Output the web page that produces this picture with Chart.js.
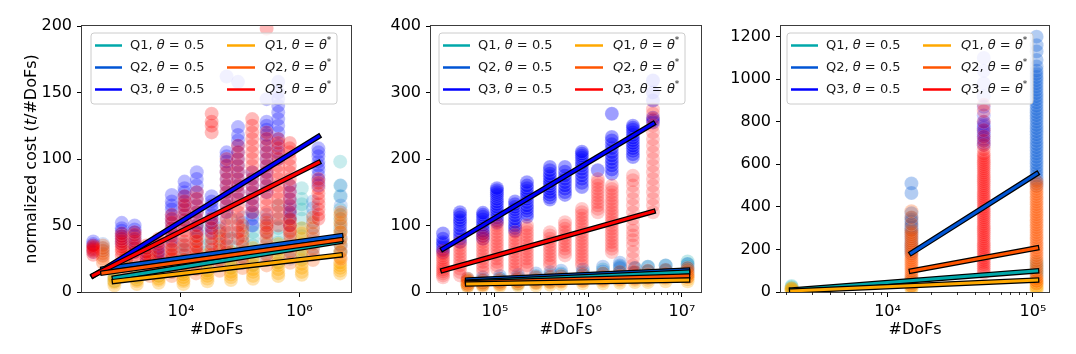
<!DOCTYPE html>
<html><head><meta charset="utf-8">
<script src="https://cdn.jsdelivr.net/npm/chart.js@4/dist/chart.umd.min.js"></script>
<style>
html,body{margin:0;padding:0;background:#fff;}
#wrap{position:relative;width:1076px;height:354px;overflow:hidden;}
.pane{position:absolute;top:0;height:354px;}
</style></head><body>
<div id="wrap">
<div class="pane" style="left:0;width:365px"><canvas id="c1" width="365" height="354"></canvas></div>
<div class="pane" style="left:365px;width:355px"><canvas id="c2" width="355" height="354"></canvas></div>
<div class="pane" style="left:720px;width:356px"><canvas id="c3" width="356" height="354"></canvas></div>
</div>
<script>
// ---------------- DATA ----------------
const seriesLabels = ['Q1', 'Q2', 'Q3'];
const thetaLabels = ['0.5', 'θ*'];
const xTitle = '#DoFs';
const yTitle = ['normalized cost (', 't', '/#DoFs)'];

// Panel 1
const p1_q1_x = [750, 1800, 4200, 11000, 28000, 70000, 165000, 440000, 1100000, 4900000];
const p1_q1_half = [[8,10,12,15],[10,12,14,16,18],[12,14,16,19,22,28],[14,17,20,24,28,32,36],[16,19,22,26,30,35,40,50],[18,22,26,30,34,40,45,55],[20,25,30,35,40,45,50,58],[22,27,32,37,42,48,55,65],[25,30,35,42,48,55,62,66,70,78],[30,36,42,48,55,62,72,80,98]];
const p1_q1_star = [[5,7,8,10,11],[6,8,9,11,13],[7,9,10,12,14,16,18],[6,8,9,11,13,15,18,21,24],[8,10,12,14,16,19,22,25,28],[9,11,13,15,18,21,24,27,30],[10,12,15,17,20,23,26,30,33],[12,14,17,20,22,25,28,32,36],[13,15,18,21,24,28,32,36,40,44,48],[14,16,18,20,22,26,30,38,45,52,58]];
const p1_q2_x = [480, 1200, 3000, 7000, 18000, 45000, 110000, 280000, 700000, 1700000, 5000000];
const p1_q2_half = [[28,31,33,36],[18,21,24,27,30,33,36],[15,18,20,24,28,31,34],[15,18,22,26,30,34,38],[18,22,25,28,32,36,40,44,48],[20,24,28,32,36,40,44,48,52],[22,26,30,34,38,43,48,52,56],[25,28,32,36,40,45,50,54,58],[25,30,35,40,45,50,55,58,62],[28,33,38,43,48,53,58,63,68],[30,35,40,46,52,58,65,72,80]];
const p1_q2_star = [[22,25,27,29,31,33,35],[14,17,20,22,25,27,30],[12,15,18,21,24,27,30],[12,15,18,21,25,28,32],[14,17,20,24,27,30,34,38,42],[16,20,24,28,31,34,38,42,46],[18,22,26,30,34,38,42,46,50],[20,24,28,32,36,40,44,48,52],[22,26,30,34,38,42,46,50,54],[24,28,32,36,40,44,48,52,56],[25,30,35,40,45,50,55,60]];
const p1_q3_x = [330, 1000, 1650, 2600, 4200, 7000, 11500, 18500, 33000, 59000, 92000, 160000, 280000, 440000, 690000, 2100000];
const p1_q3_half = [[30,32,33,35,36,38],[36,38,40,42,44,46,48,52],[30,33,36,39,42,45,47,50],[22,25,28,30,33],[25,28,30,33,35],[40,44,48,52,55,58,62,65,68,73],[50,54,58,62,65,68,72,75,78,83],[45,50,55,60,65,70,75,80,85,90],[45,48,52,55,58,62,65,68,72],[60,65,70,75,80,85,90,95,98,102,105,162],[70,75,80,85,90,95,100,105,110,114,118,124,158],[50,55,60,65,70,75,80,85,90],[75,80,85,90,95,100,105,110,115,118,122,125,128,145],[100,105,110,115,120,125,130,135,140,145,150,158],[50,55,60,65,70,75,80],[80,84,88,92,95,98,102,105,108]];
const p1_q3_star = [[28,30,31,32,33,34,35],[27,30,32,34,36,38,40,42,44],[25,28,30,33,35,38,40,43,45],[20,23,25,28,30,33,35],[18,21,24,27,30,33,36,38,40],[25,28,32,35,38,42,45,48,52,55,58],[20,24,28,32,35,38,42,46,50,54,58,62,65,68,72],[30,34,38,42,45,50,55,60,65,70,75],[25,28,32,36,40,44,48,52,55,120,125,128,134],[30,35,40,45,50,55,60,65,70,75,80,85,90,95,100],[40,45,50,55,60,65,70,75,80,85,90,95,100,105,110],[60,65,70,75,80,85,90,95,100,105,110,115,120,125,130],[45,50,55,60,65,70,75,80,85,90,95,100,105,110,115,120,198],[50,55,60,65,70,75,80,85,90,95,100,104,108,112,115],[45,50,55,60,65,70,75,80,85,90,95,100,105,108,112],[55,58,62,66,70,74,78,82,85]];
// fitted lines: [start, end]
const p1_fit_x = { q1_half:[750,4900000], q2_half:[480,5000000], q3_half:[330,2100000], q1_star:[750,4900000], q2_star:[480,5000000], q3_star:[330,2100000] };
const p1_fit_y = { q1_half:[10.5,38], q2_half:[17.3,42.3], q3_half:[12.2,116.9], q1_star:[8,27.8], q2_star:[14.3,39.3], q3_star:[12.5,97.3] };

// Panel 2
const p2_low_x = [51000, 74000, 113000, 176000, 275000, 390000, 510000, 870000, 1430000, 2170000, 3140000, 4330000, 6700000, 11500000];
const p2_q1_half = [[10,13,16],[12,15,18],[14,17,20],[12,17,22],[15,19,24],[16,21,26],[18,23,28],[20,25,30],[22,28,34],[24,31,38],[22,29,36],[25,31,38],[26,33,40],[28,33,38,42,46]];
const p2_q2_half = [[14,17,20],[14,18,22],[16,20,24],[16,21,26],[18,23,28],[18,24,30],[20,26,32],[22,28,34],[24,31,38],[26,31,36,40,44],[24,30,36],[26,32,38],[28,34,40],[30,36,42]];
const p2_q1_star = [[8,10,12,14,16],[9,11,13],[9,11,14],[10,12,15],[10,13,16],[11,14,17],[12,15,18],[13,16,19],[13,16,20],[14,17,21],[15,18,22],[15,18,22],[16,20,24],[16,19,22,24,26]];
const p2_q2_star = [[10,12,15,18,20],[11,14,17],[12,15,18],[13,16,20],[14,18,22],[15,19,23],[16,20,24],[17,21,26],[18,23,28],[19,24,30],[20,25,30],[21,26,32],[22,27,33],[22,26,30,33,36]];
const p2_q3_x = [27800, 42300, 74400, 105000, 164000, 220000, 387000, 561000, 851000, 1260000, 1780000, 2990000, 4900000];
const p2_q3_half = [[60,64,68,72,75,80,88],[75,80,85,90,95,100,105,108,112,116,120],[80,84,88,92,97,101,105,109,113,116,119],[104,108,112,116,120,124,128,132,136,140,144,147,150,153,156],[92,96,100,105,110,115,120,124,128,132,136],[113,117,122,126,130,135,140,144,148,152,156,160,165],[139,142,146,150,155,159,163,166,170,174,178,183,188],[146,150,155,160,165,170,175,181,188],[158,164,170,175,180,185,190,194,198,202,205,208,211],[183],[178,184,190,195,200,205,210,216,222,228,233,268],[203,207,212,216,220,224,228,232,236,240,244,247,250],[255,258,262,288,300,318]];
const p2_q3_star = [[22,25,28,31,34,37,40,44,48,51,55,58,62],[25,30,35,40,45,50,55,60,65,70,75],[30,35,40,45,50,55,60,65,70,75,80,84,88],[35,40,45,50,55,60,65,70,75,80,85,90,95,100,105],[30,35,40,45,50,55,60,65,70,75,80,85,90],[35,40,45,50,55,60,65,70,75,80,85,90,95,100],[40,45,50,55,60,65,70,75,80,85,90],[55,60,65,70,75,80,85,90,95,100,105],[40,45,50,55,60,65,70,75,80,85,90,95,100,105,110,115,120,125],[120,125,130,135,140,145,150,155,160,165,170],[60,65,70,75,80,85,90,95,100,105,110,115,120,125,130,135,140,145,150,155,160],[30,40,50,60,70,78,85,92,100,110,120,130,140,150,160,168,175],[120,130,140,150,160,170,180,190,200,210,220,230,240,250,260,268,275]];
const p2_fit_x = { q1_half:[51000,11500000], q2_half:[51000,11500000], q3_half:[27800,4900000], q1_star:[51000,11500000], q2_star:[51000,11500000], q3_star:[27800,4900000] };
const p2_fit_y = { q1_half:[15,30], q2_half:[18,33], q3_half:[64.6,252.9], q1_star:[12,18], q2_star:[14,24], q3_star:[32.5,121] };

// Panel 3
const p3_x = [2190, 14600, 45900, 106000];
const p3_q1_half = [[12,16,20,24,28],[30,38,45,52,60],[],[75,85,95,105,115,128,140]];
const p3_q2_half = [[],[180,190,200,210,220,230,240,250,260,270,280,290,300,310,320,330,340,350,370,465,510],[],[500,515,530,545,560,575,590,605,620,635,650,665,680,695,710,725,740,755,770,785,800,815,830,845,860,875,890,905,920,935,950,965,980,995,1010,1025,1040,1060,1090,1130,1160,1200]];
const p3_q3_half = [[],[],[690,700,710,720,730,740,750,760,770,780,790,800,830,870,920,980,1040,1100],[]];
const p3_q1_star = [[4,8,12,15,18],[15,20,25,30,35,40,45],[],[10,15,20,25,30,38,45,52,60]];
const p3_q2_star = [[],[30,40,50,60,70,80,90,100,110,120,130,140,150,160,170,180,190,200,210,220,230,240,250,260,270,280,290,320,350,380],[],[40,52,64,76,88,100,112,124,136,148,160,172,184,196,208,220,232,244,256,268,280,292,304,316,328,340,352,364,376,388,400,412,424,436,448,460,472,484,496,508,520]];
const p3_q3_star = [[],[],[90,100,110,120,130,140,150,160,170,180,190,200,210,220,230,240,250,260,270,280,290,300,310,320,330,340,350,360,370,380,390,400,410,420,430,440,450,460,470,480,490,500,510,520,530,540,550,560,570,580,590,600,610,620,630,640,650,670,690,710,730,760,800,850,880],[]];
const p3_fit_x = { q1_half:[2190,106000], q2_half:[14600,106000], q1_star:[2190,106000], q2_star:[14600,106000] };
const p3_fit_y = { q1_half:[10,99], q2_half:[183,555], q1_star:[5,56], q2_star:[99,207] };

// tick values
const p1_xticks = [1e4, 1e6], p1_yticks = [0, 50, 100, 150, 200];
const p2_xticks = [1e5, 1e6, 1e7], p2_yticks = [0, 100, 200, 300, 400];
const p3_xticks = [1e4, 1e5], p3_yticks = [0, 200, 400, 600, 800, 1000, 1200];

// ---------------- STYLE ----------------
const COL = {
  q1_half:[0,168,170], q2_half:[0,85,213], q3_half:[0,0,255],
  q1_star:[255,168,0], q2_star:[255,85,0], q3_star:[255,0,0]
};
const FONT = 'DejaVu Sans';
const SUP = {'0':'⁰','1':'¹','2':'²','3':'³','4':'⁴','5':'⁵','6':'⁶','7':'⁷','8':'⁸','9':'⁹'};
function rgba(c,a){return `rgba(${c[0]},${c[1]},${c[2]},${a})`;}
function pts(xs, cols){ const out=[]; cols.forEach((c,i)=>c.forEach(y=>out.push({x:xs[i],y}))); return out; }
function scatterDS(data, key, a, order){
  return {data, pointRadius:7, pointHoverRadius:7, backgroundColor:rgba(COL[key],a), borderColor:rgba([255,255,255],a*0.6),
    pointBorderWidth:0.8, showLine:false, order, clip:0};
}
function fitDS(fx, fy, key, order){
  const data=[{x:fx[key][0],y:fy[key][0]},{x:fx[key][1],y:fy[key][1]}];
  return [
    {data, showLine:true, borderColor:'#000', borderWidth:5.5, borderCapStyle:'square', pointRadius:0, order:order+0.5, clip:0},
    {data, showLine:true, borderColor:rgba(COL[key],1), borderWidth:3, borderCapStyle:'square', pointRadius:0, order, clip:0}
  ];
}
function minorTicks(min,max){
  const out=[]; for(let e=Math.floor(Math.log10(min)); e<=Math.ceil(Math.log10(max)); e++){
    for(let m=2;m<=9;m++){const v=m*Math.pow(10,e); if(v>=min&&v<=max) out.push(v);} }
  return out;
}
function drawPieces(ctx, pieces, x, y){
  let cx=x;
  for(const p of pieces){
    const size = p.sup ? 9 : 13;
    ctx.font = (p.it?'italic ':'') + size + 'px "' + FONT + '"';
    ctx.fillText(p.t, cx, p.sup ? y-5 : y);
    cx += ctx.measureText(p.t).width;
  }
}
function legendPlugin(dx){
  return {id:'lg', afterDraw(chart){
    const ctx=chart.ctx, a=chart.chartArea;
    const x0=a.left+dx, y0=a.top+7, w=246, h=71, r=3;
    ctx.save();
    ctx.beginPath();
    ctx.moveTo(x0+r,y0); ctx.lineTo(x0+w-r,y0); ctx.arcTo(x0+w,y0,x0+w,y0+r,r);
    ctx.lineTo(x0+w,y0+h-r); ctx.arcTo(x0+w,y0+h,x0+w-r,y0+h,r);
    ctx.lineTo(x0+r,y0+h); ctx.arcTo(x0,y0+h,x0,y0+h-r,r);
    ctx.lineTo(x0,y0+r); ctx.arcTo(x0,y0,x0+r,y0,r); ctx.closePath();
    ctx.fillStyle='rgba(255,255,255,0.8)'; ctx.fill();
    ctx.strokeStyle='#cccccc'; ctx.lineWidth=1; ctx.stroke();
    const keysH=['q1_half','q2_half','q3_half'], keysS=['q1_star','q2_star','q3_star'];
    ctx.textBaseline='middle'; ctx.fillStyle='#1a1a1a';
    for(let i=0;i<3;i++){
      const ry=y0+12.5+22*i;
      ctx.lineWidth=2.5;
      ctx.strokeStyle=rgba(COL[keysH[i]],1);
      ctx.beginPath(); ctx.moveTo(x0+4,ry); ctx.lineTo(x0+31,ry); ctx.stroke();
      ctx.strokeStyle=rgba(COL[keysS[i]],1);
      ctx.beginPath(); ctx.moveTo(x0+136,ry); ctx.lineTo(x0+164,ry); ctx.stroke();
      drawPieces(ctx,[{t:seriesLabels[i]+', '},{t:'θ',it:true},{t:' = '+thetaLabels[0]}], x0+39, ry);
      drawPieces(ctx,[{t:seriesLabels[i][0],it:true},{t:seriesLabels[i].slice(1)+', '},{t:'θ',it:true},{t:' = '},{t:'θ',it:true},{t:'*',sup:true}], x0+174, ry);
    }
    ctx.restore();
  }};
}
const framePlugin = {id:'frame', afterDatasetsDraw(chart){
  const ctx=chart.ctx, a=chart.chartArea;
  ctx.save(); ctx.strokeStyle='#3c3c3c'; ctx.lineWidth=1;
  ctx.strokeRect(Math.round(a.left)-0.5, Math.round(a.top)-0.5, Math.round(a.right-a.left)+1, Math.round(a.bottom-a.top)+1);
  ctx.restore();
}};
function minorPlugin(list){
  return {id:'minor', afterDraw(chart){
    if(!list) return;
    const ctx=chart.ctx, a=chart.chartArea, xs=chart.scales.x;
    ctx.save(); ctx.strokeStyle='#000'; ctx.lineWidth=0.8;
    for(const v of list){ const px=Math.round(xs.getPixelForValue(v))+0.5;
      if(px<a.left||px>a.right) continue;
      ctx.beginPath(); ctx.moveTo(px,a.bottom); ctx.lineTo(px,a.bottom+3); ctx.stroke(); }
    ctx.restore();
  }};
}
const yTitlePlugin = {id:'ytitle', afterDraw(chart){
  const ctx=chart.ctx, a=chart.chartArea;
  ctx.save(); ctx.translate(32,(a.top+a.bottom)/2); ctx.rotate(-Math.PI/2);
  ctx.textBaseline='middle'; ctx.fillStyle='#000';
  const parts=[{t:yTitle[0]},{t:yTitle[1],it:true},{t:yTitle[2]}];
  let tot=0; for(const p of parts){ctx.font=(p.it?'italic ':'')+'16px "'+FONT+'"'; tot+=ctx.measureText(p.t).width;}
  let cx=-tot/2;
  for(const p of parts){ctx.font=(p.it?'italic ':'')+'16px "'+FONT+'"'; ctx.fillText(p.t,cx,0); cx+=ctx.measureText(p.t).width;}
  ctx.restore();
}};

function makeChart(id, o){
  const tickFont={family:FONT,size:16};
  const plugins=[framePlugin, minorPlugin(o.minor), legendPlugin(o.legendDx)];
  if(o.ytitle) plugins.push(yTitlePlugin);
  return new Chart(document.getElementById(id), {
    type:'scatter',
    data:{datasets:o.datasets},
    options:{
      responsive:false, animation:false, events:[],
      layout:{padding:{left:o.padLeft, right:o.padRight, top:26, bottom:12}},
      plugins:{legend:{display:false}, tooltip:{enabled:false}},
      scales:{
        x:{type:'logarithmic', min:o.xmin, max:o.xmax,
           afterBuildTicks:s=>{s.ticks=o.xticks.map(v=>({value:v}));},
           ticks:{callback:v=>'10'+String(Math.round(Math.log10(v))).split('').map(d=>SUP[d]).join(''),
                  font:tickFont, color:'#000', maxRotation:0, minRotation:0, autoSkip:false, padding:5},
           grid:{display:true, drawOnChartArea:false, drawTicks:true, tickLength:5, tickColor:'#000', tickWidth:1},
           border:{display:false},
           title:{display:true, text:xTitle, font:{family:FONT,size:16}, color:'#000', padding:{top:0,bottom:3}},
           afterFit:s=>{s.height=50;}},
        y:{type:'linear', min:0, max:o.ymax,
           afterBuildTicks:s=>{s.ticks=o.yticks.map(v=>({value:v}));},
           ticks:{callback:v=>String(v), font:tickFont, color:'#000', padding:5, autoSkip:false},
           grid:{display:true, drawOnChartArea:false, drawTicks:true, tickLength:5, tickColor:'#000', tickWidth:1},
           border:{display:false},
           afterFit:s=>{s.width=60;}}
      }
    },
    plugins
  });
}

// ---------- Panel 1 ----------
const A1=0.27;
makeChart('c1',{
  padLeft:22, padRight:14, xmin:213, xmax:7.46e6, ymax:200, xticks:p1_xticks, yticks:p1_yticks, legendDx:9, ytitle:true, minor:null,
  datasets:[
    ...fitDS(p1_fit_x,p1_fit_y,'q1_star',0), ...fitDS(p1_fit_x,p1_fit_y,'q2_star',1), ...fitDS(p1_fit_x,p1_fit_y,'q3_star',2),
    ...fitDS(p1_fit_x,p1_fit_y,'q1_half',3), ...fitDS(p1_fit_x,p1_fit_y,'q2_half',4), ...fitDS(p1_fit_x,p1_fit_y,'q3_half',5),
    scatterDS(pts(p1_q3_x,p1_q3_star),'q3_star',A1,10), scatterDS(pts(p1_q2_x,p1_q2_star),'q2_star',A1,11), scatterDS(pts(p1_q1_x,p1_q1_star),'q1_star',A1+0.05,12),
    scatterDS(pts(p1_q3_x,p1_q3_half),'q3_half',A1,20), scatterDS(pts(p1_q2_x,p1_q2_half),'q2_half',A1*0.7,21), scatterDS(pts(p1_q1_x,p1_q1_half),'q1_half',A1*0.8,22)
  ]
});
// ---------- Panel 2 ----------
makeChart('c2',{
  padLeft:6, padRight:19, xmin:2.07e4, xmax:1.6e7, ymax:400, xticks:p2_xticks, yticks:p2_yticks, legendDx:8, minor:minorTicks(2.07e4,1.6e7),
  datasets:[
    ...fitDS(p2_fit_x,p2_fit_y,'q1_star',0), ...fitDS(p2_fit_x,p2_fit_y,'q2_star',1), ...fitDS(p2_fit_x,p2_fit_y,'q3_star',2),
    ...fitDS(p2_fit_x,p2_fit_y,'q1_half',3), ...fitDS(p2_fit_x,p2_fit_y,'q2_half',4), ...fitDS(p2_fit_x,p2_fit_y,'q3_half',5),
    scatterDS(pts(p2_q3_x,p2_q3_star),'q3_star',0.2,10), scatterDS(pts(p2_low_x,p2_q2_star),'q2_star',0.3,11), scatterDS(pts(p2_low_x,p2_q1_star),'q1_star',0.3,12),
    scatterDS(pts(p2_q3_x,p2_q3_half),'q3_half',0.38,20), scatterDS(pts(p2_low_x,p2_q2_half),'q2_half',0.25,21), scatterDS(pts(p2_low_x,p2_q1_half),'q1_half',0.25,22)
  ]
});
// ---------- Panel 3 ----------
makeChart('c3',{
  padLeft:1, padRight:27, xmin:1850, xmax:1.29e5, ymax:1250, xticks:p3_xticks, yticks:p3_yticks, legendDx:6, minor:minorTicks(1850,1.29e5),
  datasets:[
    ...fitDS(p3_fit_x,p3_fit_y,'q1_star',0), ...fitDS(p3_fit_x,p3_fit_y,'q2_star',1),
    ...fitDS(p3_fit_x,p3_fit_y,'q1_half',3), ...fitDS(p3_fit_x,p3_fit_y,'q2_half',4),
    scatterDS(pts(p3_x,p3_q3_star),'q3_star',0.22,10), scatterDS(pts(p3_x,p3_q2_star),'q2_star',0.28,11), scatterDS(pts(p3_x,p3_q1_star),'q1_star',0.3,12),
    scatterDS(pts(p3_x,p3_q3_half),'q3_half',0.22,20), scatterDS(pts(p3_x,p3_q2_half),'q2_half',0.3,21), scatterDS(pts(p3_x,p3_q1_half),'q1_half',0.22,22)
  ]
});
</script>
</body></html>
